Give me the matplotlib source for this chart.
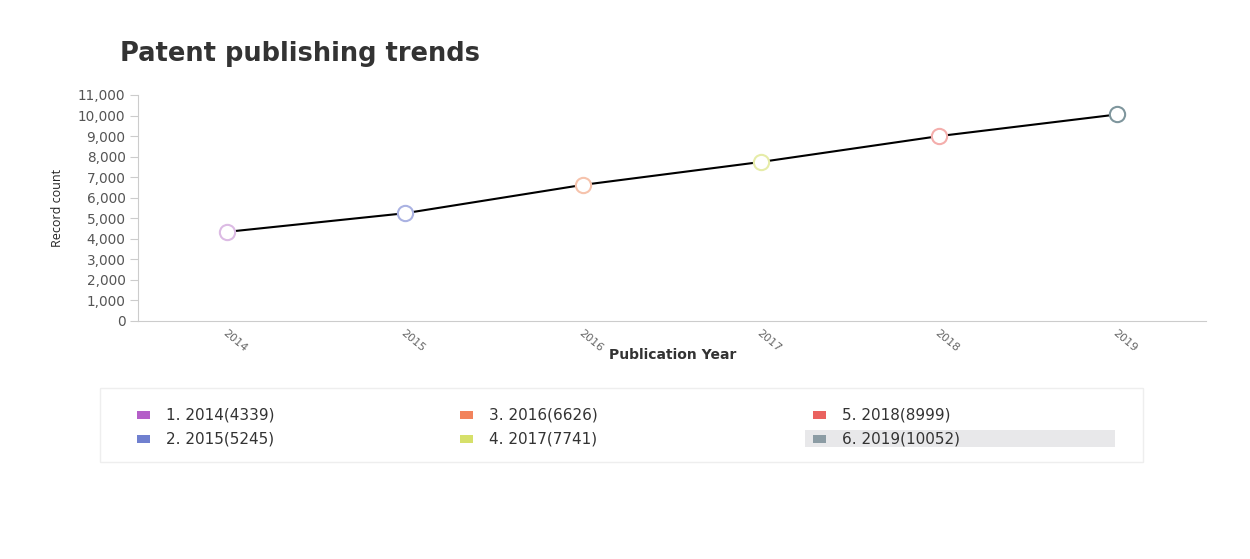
import matplotlib.pyplot as plt
from matplotlib.patches import Rectangle
from matplotlib.ticker import FuncFormatter, MultipleLocator

years = [2014, 2015, 2016, 2017, 2018, 2019]
counts = [4339, 5245, 6626, 7741, 8999, 10052]
colors = ["#b45fc8", "#7080cf", "#f2835c", "#d6e06a", "#ea625f", "#8c9ca4"]
edge_colors = ["#dcbbe4", "#aab2e2", "#f6c3ac", "#e6eca8", "#f4aeac", "#7f969d"]

plt.rcParams['font.family'] = ['DejaVu Sans']

fig = plt.figure(figsize=(12.5, 5.59), dpi=100)
ax = fig.add_axes([138 / 1250, 1 - 321 / 559, (1206 - 138) / 1250, (321 - 95) / 559])

x = list(range(len(years)))
ax.plot(x, counts, color="black", lw=1.5, zorder=2)
for i in x:
    ax.plot(i, counts[i], "o", ms=11, mfc="white", mec=edge_colors[i], mew=1.5, zorder=3)

ax.set_xlim(-0.5, len(years) - 0.5)
ax.set_ylim(0, 11000)
ax.yaxis.set_major_locator(MultipleLocator(1000))
ax.yaxis.set_major_formatter(FuncFormatter(lambda v, p: f"{int(v):,}"))
ax.set_xticks(x)
ax.set_xticklabels([str(y) for y in years], rotation=-40, ha="left", va="top",
                   rotation_mode="anchor", fontsize=8, color="#666666")
ax.tick_params(axis="y", labelsize=9.8, colors="#555555", length=6, color="#cccccc", pad=3)
ax.tick_params(axis="x", length=0, pad=5)
for s in ["top", "right"]:
    ax.spines[s].set_visible(False)
ax.spines["left"].set_color("#cccccc")
ax.spines["bottom"].set_color("#cccccc")

ax.set_xlabel("Publication Year", fontsize=10, fontweight="bold", color="#333333")
ax.xaxis.set_label_coords(0.501, -0.150)
ax.xaxis.label.set_va("center")
ax.set_ylabel("Record count", fontsize=9, color="#222222", family=["Liberation Sans Narrow", "Open Sans"])
ax.yaxis.set_label_coords(-0.0758, 0.5)
ax.yaxis.label.set_va("center")

fig.text(120 / 1250, 1 - 54 / 559, "Patent publishing trends", fontsize=18.5,
         fontweight="bold", color="#333333", va="center")

# legend box
fig.patches.append(Rectangle((100 / 1250, 1 - 462 / 559), 1043 / 1250, 74 / 559,
                             transform=fig.transFigure, fc="white", ec="#eeeeee", lw=1))
fig.patches.append(Rectangle((805 / 1250, 1 - 447 / 559), 310 / 1250, 17 / 559,
                             transform=fig.transFigure, fc="#e8e8ea", ec="none"))
col_x = [137, 460, 813]
row_y = [415, 439]
for i, (yr, c) in enumerate(zip(years, counts)):
    cx = col_x[i // 2]
    cy = row_y[i % 2]
    fig.patches.append(Rectangle((cx / 1250, 1 - (cy + 4) / 559), 13 / 1250, 8 / 559,
                                 transform=fig.transFigure, fc=colors[i], ec="none"))
    fig.text((cx + 29) / 1250, 1 - cy / 559, f"{i + 1}. {yr}({c})", fontsize=11,
             color="#333333", va="center")

fig.savefig("out.png", dpi=100)
